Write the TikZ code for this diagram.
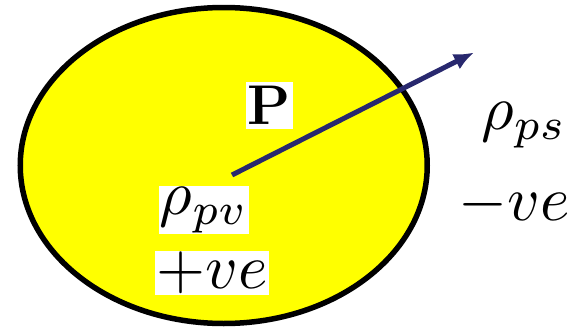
\documentclass[tikz,border=0pt]{standalone}
\usepackage{graphicx}
\usetikzlibrary{arrows.meta}
\definecolor{navyarrow}{RGB}{40,40,110}
\definecolor{pureyellow}{RGB}{255,255,0}
\newcommand{\bigmath}[1]{\scalebox{6.3}{$#1$}}
\begin{document}
\begin{tikzpicture}[x=1pt,y=-1pt,
  wlabel/.style={fill=white,inner sep=1pt},
  plabel/.style={inner sep=1pt}]
\useasboundingbox (0,0) rectangle (574,327);
\draw[line width=5.5pt,fill=pureyellow] (223.75,165.5) ellipse [x radius=203.5, y radius=158];
\node[wlabel,inner xsep=2pt,inner ysep=4.5pt,font=\fontsize{56}{60}\selectfont\bfseries] (P) at (269.5,105.5) {P};
\coordinate (a0) at (232,175);
\coordinate (a1) at (474,52.5);
\draw[navyarrow,line width=5pt,-{Latex[length=20pt,width=17pt]}] (a0) -- (a1);
\node[wlabel] (rpv) at (204,210) {\bigmath{\rho_{pv}}};
\node[wlabel] (pve) at (212,272.5) {\bigmath{+ve}};
\node[plabel] (rps) at (524,125) {\bigmath{\rho_{ps}}};
\node[plabel] (mve) at (514,205) {\bigmath{-ve}};
\end{tikzpicture}
\end{document}
